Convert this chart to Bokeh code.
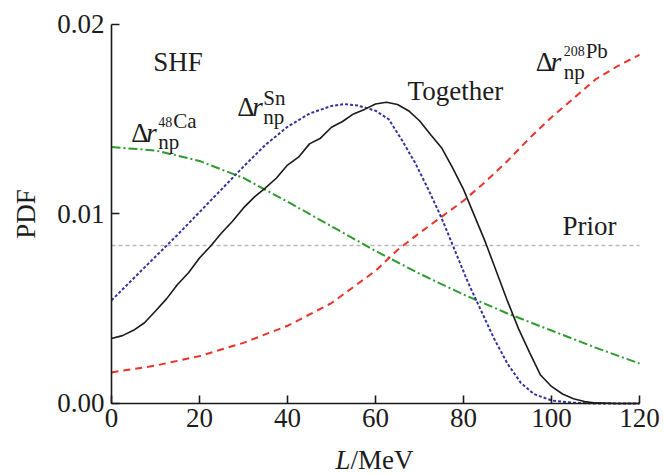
from bokeh.plotting import figure
from bokeh.models import Range1d, FixedTicker, Label
from bokeh.embed import file_html
from bokeh.resources import INLINE

# ---------------- data ----------------
L_ticks = [0, 20, 40, 60, 80, 100, 120]
pdf_ticks = [0.0, 0.01, 0.02]
pdf_tick_labels = ["0.00", "0.01", "0.02"]

# Together (solid black)
L_together = [0, 2.5, 5, 7.5, 10, 12.5, 15, 17.5, 20, 22.5, 25, 27.5, 30, 32.5, 35,
              37.5, 40, 42.5, 45, 47.5, 50, 52.5, 55, 57.5, 60, 62.5, 65, 67.5, 70,
              72.5, 75, 77.5, 80, 82.5, 85, 87.5, 90, 92.5, 95, 97.5, 100, 102.5,
              105, 107.5, 110, 115, 120]
pdf_together = [0.00343, 0.00358, 0.00386, 0.00426, 0.00488, 0.00552, 0.00628, 0.00690,
                0.00768, 0.00830, 0.00900, 0.00962, 0.01032, 0.01090, 0.01138, 0.01190,
                0.01258, 0.01300, 0.01370, 0.01400, 0.01458, 0.01488, 0.01528, 0.01552,
                0.01580, 0.01590, 0.01578, 0.01545, 0.01492, 0.01420, 0.01350, 0.01245,
                0.01130, 0.00990, 0.00850, 0.00695, 0.00540, 0.00395, 0.00270, 0.00150,
                0.00090, 0.00050, 0.00025, 0.00010, 0.00003, 0.0, 0.0]

# Delta r_np Sn (blue dotted)
L_sn = [0, 5, 10, 15, 20, 25, 30, 35, 40, 45, 50, 53, 56, 60, 63, 66, 69, 72, 75,
        78, 81, 84, 87, 90, 93, 96, 100, 105, 110, 120]
pdf_sn = [0.00544, 0.00660, 0.00775, 0.00890, 0.01010, 0.01130, 0.01250, 0.01365,
          0.01460, 0.01530, 0.01570, 0.01580, 0.01572, 0.01545, 0.01500, 0.01390,
          0.01270, 0.01130, 0.00980, 0.00810, 0.00640, 0.00490, 0.00340, 0.00210,
          0.00110, 0.00050, 0.00016, 0.00004, 0.0, 0.0]

# Delta r_np 208Pb (red dashed)
L_pb = [0, 10, 20, 30, 40, 50, 60, 65, 70, 75, 80, 85, 90, 95, 100, 105, 110, 115, 120]
pdf_pb = [0.00164, 0.00200, 0.00250, 0.00320, 0.00410, 0.00530, 0.00700, 0.00810,
          0.00900, 0.00985, 0.01070, 0.01170, 0.01280, 0.01400, 0.01510, 0.01610,
          0.01710, 0.01780, 0.01840]

# Delta r_np 48Ca (green dash-dot)
L_ca = [0, 10, 20, 30, 40, 50, 60, 70, 80, 90, 100, 110, 120]
pdf_ca = [0.01353, 0.01335, 0.01280, 0.01190, 0.01065, 0.00935, 0.00805, 0.00685,
          0.00575, 0.00475, 0.00385, 0.00295, 0.00211]

# Prior (flat, 1/120)
L_prior = [0, 120]
pdf_prior = [1 / 120, 1 / 120]

FONT = "Liberation Serif"
TXT = "#1c1c1c"

# The frame fills the whole canvas; the axes sit at L=0 / PDF=0 (fixed_location)
# and are bounded to the data extent, so that titles outside the data area are
# still inside the (clipping) frame.
p = figure(width=664, height=475, output_backend="svg", toolbar_location=None,
           x_range=Range1d(-25.227, 125.682), y_range=Range1d(-0.0038, 0.021266),
           min_border=0, min_border_left=0, min_border_right=0,
           min_border_top=0, min_border_bottom=0)
p.outline_line_color = None
p.grid.visible = False
p.background_fill_color = "white"

p.line(L_prior, pdf_prior, line_color="#b8b8b8", line_width=1.6, line_dash="4 3")
p.line(L_ca, pdf_ca, line_color="#2e9a30", line_width=2, line_dash="9 3 2 3")
p.line(L_pb, pdf_pb, line_color="#e8322a", line_width=2, line_dash="7 5")
p.line(L_sn, pdf_sn, line_color="#34349c", line_width=2, line_dash="3 2")
p.line(L_together, pdf_together, line_color="#1a1a1a", line_width=1.6)

for ax in (p.xaxis[0], p.yaxis[0]):
    ax.fixed_location = 0
    ax.axis_line_color = "#1a1a1a"
    ax.axis_line_width = 1.6
    ax.major_tick_line_color = "#1a1a1a"
    ax.major_tick_line_width = 1.6
    ax.major_tick_in = 8
    ax.major_tick_out = 0
    ax.minor_tick_line_color = None
    ax.major_label_text_font = FONT
    ax.major_label_text_font_size = "27px"
    ax.major_label_text_color = TXT

p.xaxis.bounds = (L_ticks[0], L_ticks[-1])
p.xaxis.ticker = FixedTicker(ticks=L_ticks)
p.xaxis.major_label_standoff = 6
p.yaxis.bounds = (pdf_ticks[0], pdf_ticks[-1])
p.yaxis.ticker = FixedTicker(ticks=pdf_ticks)
p.yaxis.major_label_overrides = {t: s for t, s in zip(pdf_ticks, pdf_tick_labels)}
p.yaxis.major_label_standoff = 7
p.yaxis.axis_label = "PDF"
p.yaxis.axis_label_text_font = FONT
p.yaxis.axis_label_text_font_size = "27px"
p.yaxis.axis_label_text_font_style = "normal"
p.yaxis.axis_label_text_color = TXT
p.yaxis.axis_label_standoff = 13


def lab(x, y, text, size=27, style="normal", dx=0, dy=0):
    # small upward correction so that the alphabetic baseline lands where intended
    p.add_layout(Label(x=x, y=y, text=text, x_offset=dx, y_offset=dy + 0.33 * size,
                       text_font=FONT, text_font_size=f"{size}px",
                       text_font_style=style, text_color=TXT,
                       text_baseline="alphabetic", text_align="left"))


# x-axis title: italic L + "/MeV"
lab(50.9, -0.00343, "L", style="italic")
lab(50.9, -0.00343, "/MeV", dx=15)

# plain annotations
lab(9.5, 0.01757, "SHF")
lab(67.3, 0.01604, "Together")
lab(102.5, 0.00887, "Prior")


def delta_r(x, y, sup_pre, sup, sup_dx):
    lab(x, y, "\u0394")
    lab(x, y, "r", style="italic", dx=15)
    if sup_pre:
        lab(x, y, sup_pre, size=14, dx=sup_dx, dy=15)
        lab(x, y, sup, size=21, dx=sup_dx + len(sup_pre) * 7 + 1, dy=13)
    else:
        lab(x, y, sup, size=21, dx=sup_dx, dy=11)
    lab(x, y, "np", size=21, dx=sup_dx, dy=-8)


delta_r(4.5, 0.01383, "48", "Ca", 27)
delta_r(28.6, 0.01520, "", "Sn", 26)
delta_r(96.4, 0.01757, "208", "Pb", 28)

open("out.html", "w").write(file_html(p, INLINE))
